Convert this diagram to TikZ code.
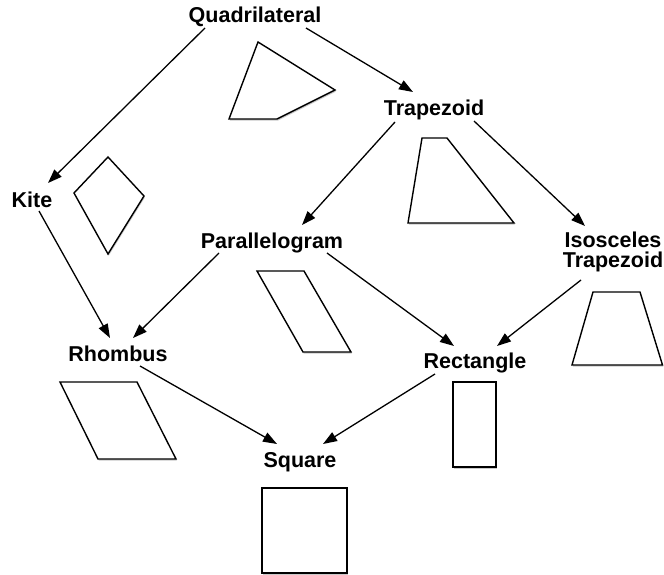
\documentclass[tikz,border=0pt]{standalone}
\usepackage{fontspec}
\setmainfont{Liberation Sans}
\usetikzlibrary{arrows.meta,shadows}
\begin{document}
\begin{tikzpicture}[x=1pt,y=-1pt,
  lbl/.style={font=\fontsize{21.5}{19.5}\selectfont\bfseries, inner sep=0pt, anchor=base},
  arr/.style={line width=1.3pt, -{Triangle[length=14pt,width=10pt]}},
  shp/.style={line width=1.4pt, fill=white, line join=miter,
    drop shadow={shadow xshift=0.8pt, shadow yshift=-1.6pt, opacity=0.35, fill=black!60}}]
\useasboundingbox (0,0) rectangle (664,575);

% labels
\node[lbl] (quad) at (255,23) {Quadrilateral};
\node[lbl] (trap) at (434,116) {Trapezoid};
\node[lbl] (kite) at (32,207) {Kite};
\node[lbl] (para) at (272,248) {Parallelogram};
\node[lbl, align=center] (isos) at (613,267) {Isosceles\\Trapezoid};
\node[lbl] (rhom) at (118,361) {Rhombus};
\node[lbl] (rect) at (475,368) {Rectangle};
\node[lbl] (sq) at (300,467) {Square};

% shapes
\draw[shp] (258,42) -- (335,90) -- (277,119) -- (229,119) -- cycle;
\draw[shp] (108,157) -- (144,196) -- (108,254) -- (74,193) -- cycle;
\draw[shp] (422,138) -- (447,138) -- (514,223) -- (408,223) -- cycle;
\draw[shp] (257,271) -- (304,271) -- (351,352) -- (303,352) -- cycle;
\draw[shp] (593,292) -- (640,292) -- (662.5,365) -- (572,365) -- cycle;
\draw[shp] (60,382) -- (137,382) -- (176,459) -- (98,459) -- cycle;
\draw[shp] (453,382) rectangle (496,467);
\draw[shp] (262,488) rectangle (347,573);

% connectors
\draw[arr] ([shift={(-50,5)}]quad.base) -- ([shift={(16,-24)}]kite.base);
\draw[arr] ([shift={(51,5)}]quad.base) -- ([shift={(-21,-24)}]trap.base);
\draw[arr] ([shift={(-39,6)}]trap.base) -- ([shift={(30,-23)}]para.base);
\draw[arr] ([shift={(40,5)}]trap.base) -- ([shift={(-28,-41)}]isos.base);
\draw[arr] ([shift={(7,4)}]kite.base) -- ([shift={(-8,-23)}]rhom.base);
\draw[arr] ([shift={(-53,5)}]para.base) -- ([shift={(15,-23)}]rhom.base);
\draw[arr] ([shift={(55,5)}]para.base) -- ([shift={(-21,-22)}]rect.base);
\draw[arr] ([shift={(-32,13)}]isos.base) -- ([shift={(22,-22)}]rect.base);
\draw[arr] ([shift={(22,5)}]rhom.base) -- ([shift={(-23,-23)}]sq.base);
\draw[arr] ([shift={(-40,6)}]rect.base) -- ([shift={(23,-23)}]sq.base);
\end{tikzpicture}
\end{document}
